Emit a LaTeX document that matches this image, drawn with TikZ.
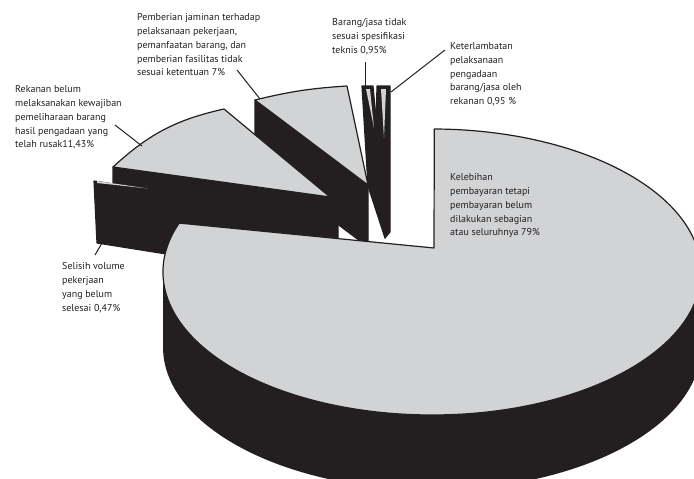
\documentclass[tikz,border=0pt]{standalone}
\usepackage{fontspec}
\usepackage{tikz}
\newfontfamily\lblfont{PT Sans}
\definecolor{pieblack}{HTML}{231F20}
\definecolor{piegray}{HTML}{D1D3D4}
\tikzset{
  lbl/.style={font=\lblfont\fontsize{10}{13.75}\selectfont, align=left, anchor=north west, inner sep=0pt, text=pieblack},
  wall/.style={fill=pieblack, draw=pieblack, line width=1.2pt, line join=round},
  topface/.style={fill=piegray, draw=pieblack, line width=1.2pt, line join=round},
  leader/.style={draw=pieblack, line width=1pt}
}
\begin{document}
\begin{tikzpicture}[x=1pt,y=-1pt]
\clip (0,0) rectangle (694,479);

% 7%
\filldraw[wall] (255,100) -- (368,185) -- (368,247) -- (255,162) -- cycle;
\filldraw[topface] (255,100) to[bend left=5] (347,86) -- (368,185) -- cycle;
% 0,95% + 0,95%
\filldraw[wall] (362,86) -- (373,86) -- (377,128) -- (385,238) -- (368,186) -- cycle;
\fill[piegray] (366,89) -- (370,89) -- (374,128) -- cycle;
\filldraw[wall] (377,86) -- (390,86) -- (390,232) -- (385,238) -- (376,130) -- cycle;
\fill[piegray] (381,89) -- (386,89) -- (384,138) -- cycle;
% 11,43%
\filldraw[wall] (113,167) -- (330,197) -- (338,203) -- (338,262) -- (113,226) -- cycle;
\filldraw[topface] (113,167) to[bend left=15] (224,109) -- (330,197) -- cycle;
% 0,47%
\filldraw[wall] (94,181) -- (330,218) -- (330,280) -- (97,243) -- cycle;
\fill[piegray] (97,181) -- (148,188.5) -- (97,183) -- cycle;
% 79%
\fill[pieblack] (701,272) -- (701,347) arc[start angle=0, end angle=180, x radius=269, y radius=143] -- (163,272) -- cycle;
\filldraw[topface] (434,248) -- (434.3,129) arc[start angle=-89.5, end angle=200, x radius=269, y radius=143] -- cycle;

\node[lbl] (jaminan) at (137,13.5) {Pemberian jaminan terhadap\\pelaksanaan pekerjaan,\\pemanfaatan barang, dan\\pemberian fasilitas tidak\\sesuai ketentuan 7\%};
\node[lbl] (rekanan) at (15,85.5) {Rekanan belum\\melaksanakan kewajiban\\pemeliharaan barang\\hasil pengadaan yang\\telah rusak11,43\%};
\node[lbl] (barang) at (332,18.5) {Barang/jasa tidak\\sesuai spesifikasi\\teknis 0,95\%};
\node[lbl] (terlambat) at (450,42.5) {Keterlambatan\\pelaksanaan\\pengadaan\\barang/jasa oleh\\rekanan 0,95 \%};
\node[lbl] (lebih) at (450,173.5) {Kelebihan\\pembayaran tetapi\\pembayaran belum\\dilakukan sebagian\\atau seluruhnya 79\%};
\node[lbl] (selisih) at (62,262.5) {Selisih volume\\pekerjaan\\yang belum\\selesai 0,47\%};

\coordinate (jaminanA) at (237,70);
\coordinate (jaminanB) at (260,99);
\coordinate (rekananA) at (115,125);
\coordinate (rekananB) at (142,146);
\coordinate (selisihA) at (95,255);
\coordinate (selisihB) at (102,243);
\coordinate (barangA) at (365,62);
\coordinate (barangB) at (365,86);
\coordinate (terlambatA) at (445,50);
\coordinate (terlambatB) at (391,92);
\draw[leader]  (jaminanA) edge (jaminanB);
\draw[leader]  (rekananA) edge (rekananB);
\draw[leader]  (selisihA) edge (selisihB);
\draw[leader]  (barangA) edge (barangB);
\draw[leader]  (terlambatA) edge (terlambatB);
\end{tikzpicture}
\end{document}
